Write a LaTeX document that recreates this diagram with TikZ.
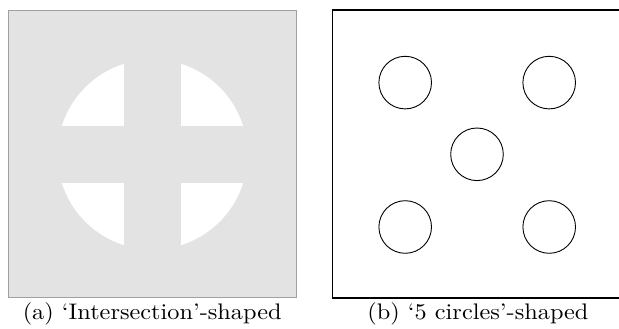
\documentclass[tikz,border=0pt]{standalone}
\usepackage{fontspec}
\setmainfont{lmroman10-regular.otf}[FakeStretch=1.08]
\definecolor{panelgray}{HTML}{E3E3E3}
\definecolor{framegray}{HTML}{A0A0A0}
\begin{document}
\begin{tikzpicture}[x=1pt,y=-1pt,
  caption/.style={anchor=base,inner sep=0pt,font=\fontsize{22.5}{26}\selectfont},
  hole/.style={draw=black,line width=0.9pt}]
\useasboundingbox (0,0) rectangle (619,329);
% (a) intersection-shaped domain
\fill[panelgray,draw=framegray,line width=0.9pt] (8.8,10.8) rectangle (296,297);
\fill[white] (152.5,154.5) circle[radius=95pt];
\fill[panelgray] (124,50) rectangle (181,260);
\fill[panelgray] (50,126) rectangle (255,183);
\node[caption] (capa) at (152.2,319.6) {(a) `Intersection'-shaped};
% (b) 5 circles-shaped domain
\draw[black,line width=1.4pt] (332.7,10) rectangle (621,298);
\draw[hole] (405.2,82.6) circle[radius=26.3pt];
\draw[hole] (549.2,82.6) circle[radius=26.3pt];
\draw[hole] (477,154.3) circle[radius=26.3pt];
\draw[hole] (405.2,227) circle[radius=26.3pt];
\draw[hole] (549.2,227) circle[radius=26.3pt];
\node[caption] (capb) at (478,319.6) {(b) `5 circles'-shaped};
\end{tikzpicture}
\end{document}
